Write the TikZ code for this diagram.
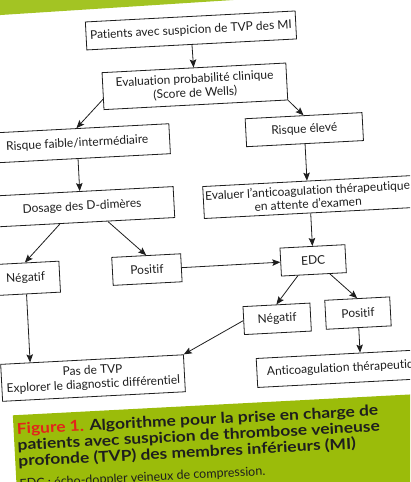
\documentclass[tikz,border=0pt]{standalone}
\usepackage{fontspec}
\setmainfont{Lato}[Ligatures={NoCommon}]
\newfontfamily\capfont[FakeStretch=1.16, Ligatures={NoCommon}]{Lato}
\usetikzlibrary{arrows.meta,positioning,calc}

\definecolor{pagegreen}{HTML}{9BBC0A}
\definecolor{headgreen}{HTML}{A3C423}
\definecolor{figred}{HTML}{E3241B}
\definecolor{inkgray}{HTML}{1E1E1E}

\begin{document}
\begin{tikzpicture}[x=1pt,y=-1pt,
    box/.style={draw=inkgray, line width=0.8pt, fill=white, align=center,
      inner sep=2pt, text=inkgray, font=\fontsize{12}{14}\selectfont},
    arr/.style={-{Stealth[length=8pt,width=6.5pt,inset=1.5pt]}, line width=0.8pt, draw=inkgray}]
  \useasboundingbox (0,0) rectangle (410,482);
  \clip (0,0) rectangle (410,482);
  \begin{scope}[rotate around={3:(205,241)}, transform shape]
    % page header strip and caption panel
    \fill[headgreen] (-60,-120) -- (520,-120) -- (520,-1.5) -- (-60,5.5) -- cycle;
    \fill[pagegreen] (4,405) rectangle (520,560);

    % boxes of the algorithm
    \node[box, minimum width=210pt, minimum height=28pt] (pat) at (202,30) {Patients avec suspicion de TVP des MI};
    \node[box, minimum width=184pt, minimum height=37pt] (eval) at (203,86) {Evaluation probabilité clinique\\(Score de Wells)};
    \node[box, minimum width=185pt, minimum height=30pt] (rfai) at (82.5,137) {Risque faible/intermédiaire};
    \node[box, minimum width=117pt, minimum height=28pt] (relev) at (310,135) {Risque élevé};
    \node[box, minimum width=184pt, minimum height=31pt] (dos) at (84,200.5) {Dosage des D-dimères};
    \node[box, minimum width=208pt, minimum height=32pt, font=\fontsize{12}{13.5}\selectfont] (evac) at (310,202.5) {Evaluer l'anticoagulation thérapeutique\\en attente d'examen};
    \node[box, minimum width=68pt, minimum height=31pt] (nega) at (24,269) {Négatif};
    \node[box, minimum width=69pt, minimum height=28pt] (posa) at (145.5,266.5) {Positif};
    \node[box, minimum width=65pt, minimum height=28pt] (edc) at (312,266) {EDC};
    \node[box, minimum width=67pt, minimum height=28pt] (negb) at (273,322.5) {Négatif};
    \node[box, minimum width=65pt, minimum height=29pt] (posb) at (354,321) {Positif};
    \node[box, minimum width=183pt, minimum height=37pt, font=\fontsize{12}{14}\selectfont] (pas) at (86,372) {Pas de TVP\\Explorer le diagnostic différentiel};
    \node[box, minimum width=180pt, minimum height=29pt] (anti) at (340,375.5) {Anticoagulation thérapeutique};

    % connectors
    \draw[arr] (pat) -- (eval);
    \draw[arr] (eval.185) -- (rfai.north);
    \draw[arr] (eval.south east) -- (relev.north);
    \draw[arr] (rfai) -- (rfai |- dos.north);
    \draw[arr] (relev) -- (evac);
    \draw[arr] ([xshift=-23pt]dos.south) -- (nega.north);
    \draw[arr] ([xshift=25pt]dos.south) -- (posa.north);
    \draw[arr] (evac.south -| edc) -- (edc.north);
    \draw[arr] (posa) -- (edc);
    \draw[arr] ([xshift=-16pt]edc.south) -- (negb.north);
    \draw[arr] ([xshift=16pt]edc.south) -- (posb.north);
    \draw[arr] (nega) -- (nega |- pas.north);
    \draw[arr] (negb.west) -- (pas.north east);
    \draw[arr] (posb) -- (posb |- anti.north);

    % caption
    \node[anchor=north west, align=left, inner sep=0pt, text=inkgray,
      font=\capfont\fontsize{15}{16}\selectfont\bfseries] (cap) at (7,413)
      {\textcolor{figred}{Figure 1.} Algorithme pour la prise en charge de\\
       patients avec suspicion de thrombose veineuse\\
       profonde (TVP) des membres inférieurs (MI)};
    \node[anchor=base west, inner sep=0pt, text=inkgray,
      font=\fontsize{12.5}{14}\selectfont] (capnote) at (7,478)
      {EDC : écho-doppler veineux de compression.};
  \end{scope}
\end{tikzpicture}
\end{document}
